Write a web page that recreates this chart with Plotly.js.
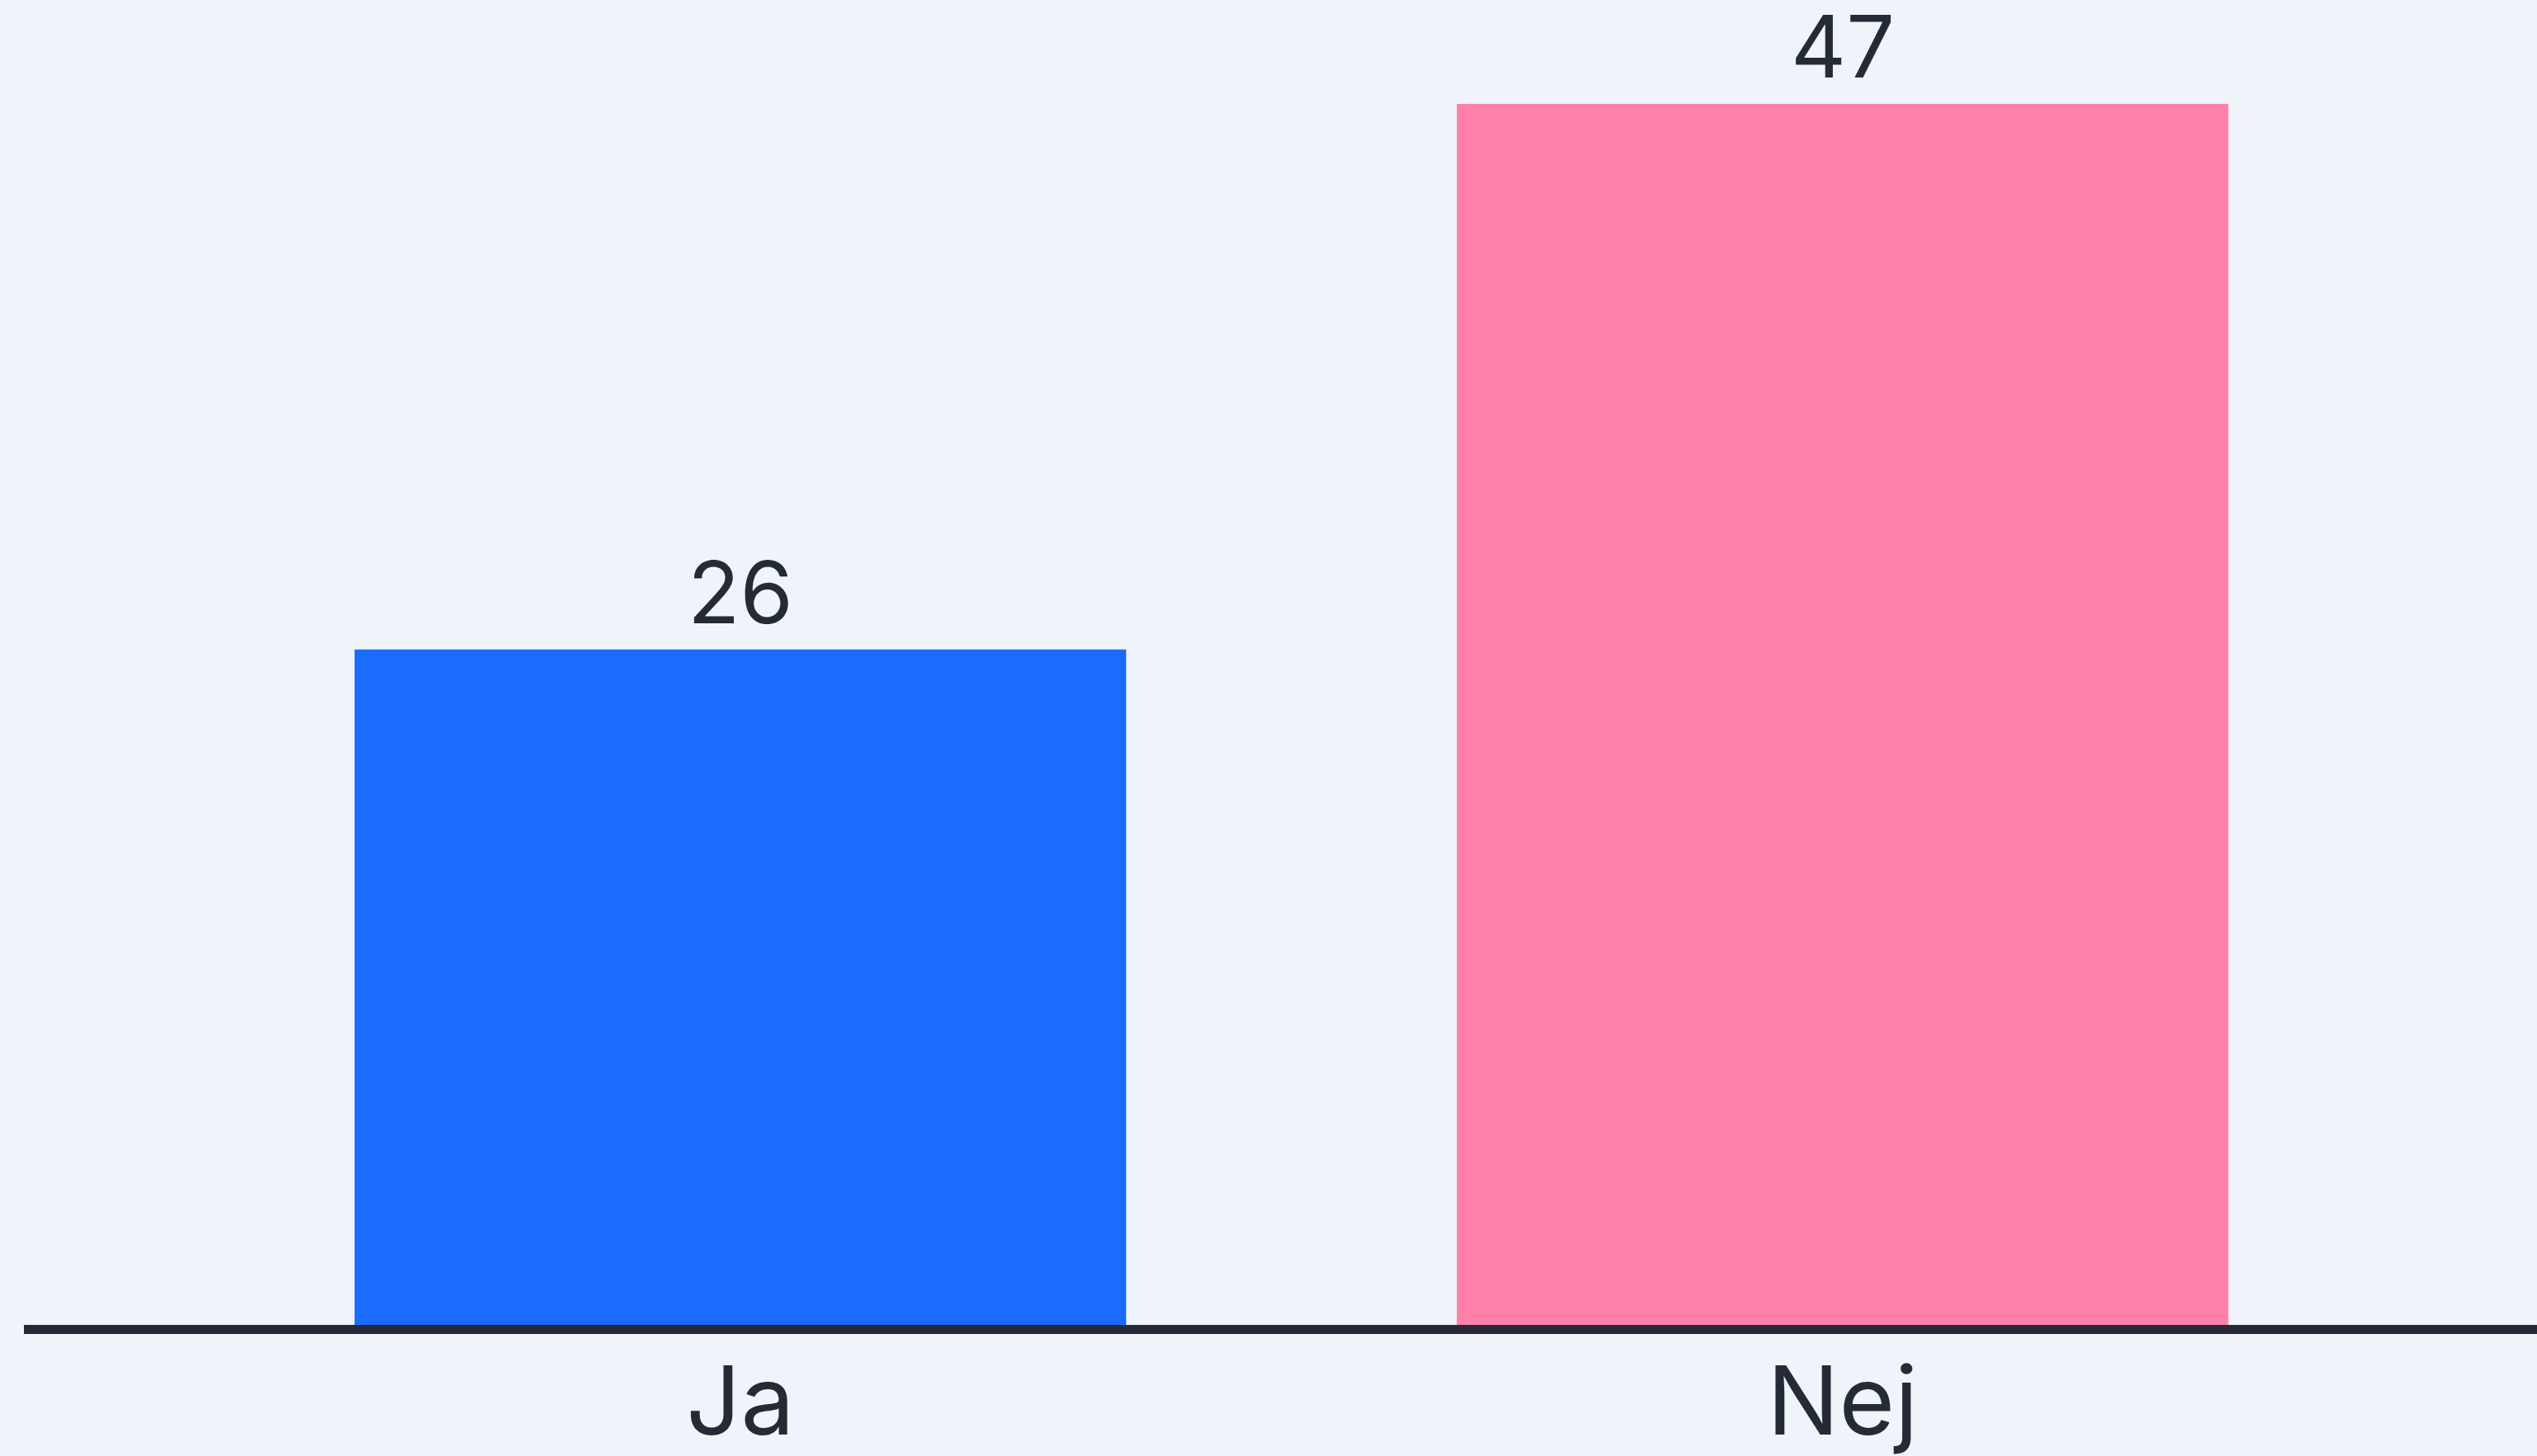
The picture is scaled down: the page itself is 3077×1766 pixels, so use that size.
<!DOCTYPE html>
<html>
<head>
<meta charset="utf-8">
<script src="https://cdn.plot.ly/plotly-3.0.1.min.js"></script>
<style>
html,body{margin:0;padding:0;background:#eff4fb;}
#chart{width:3077px;height:1766px;}
</style>
</head>
<body>
<div id="chart"></div>
<script>
const categories = ["Ja", "Nej"];
const values = [26, 47];
const barColors = ["#1b6bff", "#ff80a8"];

const fontFamily = "Inter, 'Open Sans', sans-serif";
const textColor = "#252b36";

const trace = {
  type: "bar",
  x: categories,
  y: values,
  marker: {color: barColors, line: {width: 0}},
  hoverinfo: "skip",
  cliponaxis: false
};

const annotations = categories.map((c, i) => ({
  x: c,
  y: values[i],
  xref: "x",
  yref: "y",
  text: String(values[i]),
  showarrow: false,
  yanchor: "bottom",
  yshift: 5,
  font: {family: fontFamily, size: 104, color: textColor}
}));

const layout = {
  width: 3077,
  height: 1766,
  paper_bgcolor: "#eff4fb",
  plot_bgcolor: "#eff4fb",
  margin: {l: 29, r: 0, t: 0, b: 159},
  bargap: 0.3,
  showlegend: false,
  xaxis: {
    type: "category",
    range: [-0.65, 1.63],
    showline: true,
    linecolor: "#232a35",
    linewidth: 11,
    showgrid: false,
    zeroline: false,
    ticks: "",
    ticklabelstandoff: -17,
    tickfont: {family: fontFamily, size: 116, color: textColor},
    fixedrange: true
  },
  yaxis: {
    range: [0, 51],
    showgrid: false,
    zeroline: false,
    showline: false,
    showticklabels: false,
    ticks: "",
    fixedrange: true
  },
  annotations: annotations
};

Plotly.newPlot("chart", [trace], layout, {displayModeBar: false, staticPlot: true});
</script>
</body>
</html>
